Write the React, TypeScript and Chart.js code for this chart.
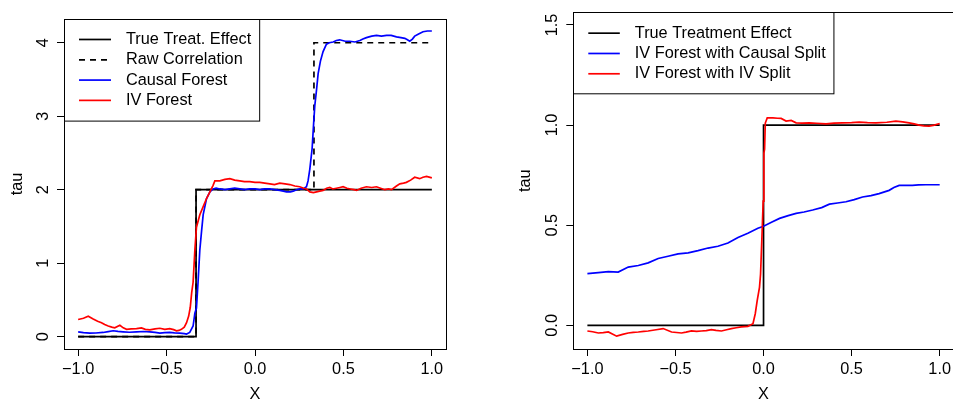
import React, { useEffect, useRef } from 'react';
import { Chart, registerables } from 'chart.js';

Chart.register(...registerables);

const FONT = '"Liberation Sans", Arial, Helvetica, sans-serif';
const FSIZE = 16.3;

// ---------- Left panel data ----------
const leftXTicks = [-1, -0.5, 0, 0.5, 1];
const leftYTicks = [0, 1, 2, 3, 4];
const leftLabels = ['True Treat. Effect', 'Raw Correlation', 'Causal Forest', 'IV Forest'];

const trueEffectX = [-1, -1 / 3, -1 / 3, 1];
const trueEffectY = [0, 0, 2, 2];

const rawCorrX = [-1, -1 / 3, -1 / 3, 1 / 3, 1 / 3, 1];
const rawCorrY = [0, 0, 2, 2, 4, 4];

const causalForestX = [
  -1.0, -0.97, -0.934, -0.9, -0.859, -0.83, -0.802, -0.775, -0.746, -0.71, -0.67, -0.63, -0.595, -0.565,
  -0.538, -0.51, -0.482, -0.455, -0.425, -0.4, -0.387, -0.369, -0.35, -0.34, -0.331, -0.322, -0.312,
  -0.302, -0.293, -0.274, -0.255, -0.237, -0.22, -0.199, -0.17, -0.142, -0.115, -0.086, -0.06, -0.03,
  0.0, 0.027, 0.055, 0.084, 0.11, 0.14, 0.16, 0.178, 0.2, 0.216, 0.235, 0.253, 0.272, 0.291, 0.3, 0.31,
  0.323, 0.332, 0.338, 0.348, 0.357, 0.37, 0.385, 0.404, 0.42, 0.442, 0.46, 0.479, 0.51, 0.536, 0.565,
  0.593, 0.61, 0.63, 0.66, 0.687, 0.715, 0.744, 0.77, 0.8, 0.825, 0.847, 0.862, 0.875, 0.89, 0.903,
  0.925, 0.95, 0.975, 1.0,
];
const causalForestY = [
  0.066, 0.055, 0.049, 0.05, 0.057, 0.068, 0.08, 0.072, 0.066, 0.06, 0.066, 0.07, 0.066, 0.058,
  0.049, 0.054, 0.057, 0.052, 0.049, 0.042, 0.035, 0.057, 0.145, 0.32, 0.39, 0.74, 1.18,
  1.44, 1.66, 1.88, 1.97, 2.01, 2.02, 2.01, 2.0, 2.01, 2.02, 2.01, 2.0, 2.01,
  2.01, 2.0, 2.01, 2.01, 2.0, 1.99, 1.98, 1.97, 1.97, 1.98, 2.0, 2.01, 2.01, 2.04, 2.12, 2.28,
  2.56, 2.92, 3.14, 3.36, 3.58, 3.75, 3.88, 3.98, 4.0, 4.01, 4.03, 4.04, 4.02, 4.02, 4.01,
  4.03, 4.05, 4.07, 4.09, 4.1, 4.09, 4.1, 4.1, 4.08, 4.07, 4.06, 4.04, 4.02, 4.05, 4.09,
  4.12, 4.15, 4.16, 4.16,
];

const ivForestX = [
  -1.0, -0.97, -0.943, -0.915, -0.89, -0.868, -0.85, -0.83, -0.81, -0.793, -0.764, -0.745, -0.726, -0.7,
  -0.67, -0.642, -0.62, -0.595, -0.565, -0.538, -0.51, -0.482, -0.46, -0.444, -0.43, -0.416, -0.4,
  -0.387, -0.375, -0.366, -0.358, -0.35, -0.34, -0.331, -0.312, -0.293, -0.274, -0.255, -0.237, -0.227,
  -0.199, -0.17, -0.142, -0.115, -0.086, -0.06, -0.03, 0.0, 0.027, 0.055, 0.084, 0.11, 0.14, 0.17,
  0.197, 0.225, 0.253, 0.275, 0.291, 0.31, 0.33, 0.348, 0.366, 0.385, 0.405, 0.423, 0.44, 0.46, 0.48,
  0.498, 0.52, 0.54, 0.56, 0.574, 0.6, 0.63, 0.66, 0.687, 0.71, 0.734, 0.755, 0.772, 0.8, 0.819, 0.84,
  0.856, 0.88, 0.903, 0.931, 0.95, 0.97, 1.0,
];
const ivForestY = [
  0.233, 0.25, 0.277, 0.24, 0.21, 0.19, 0.165, 0.145, 0.13, 0.12, 0.154, 0.12, 0.1, 0.105,
  0.11, 0.12, 0.1, 0.092, 0.105, 0.114, 0.1, 0.11, 0.095, 0.08, 0.085, 0.1, 0.13,
  0.19, 0.28, 0.4, 0.6, 0.74, 1.18, 1.49, 1.66, 1.77, 1.88, 1.97, 2.06, 2.12,
  2.12, 2.14, 2.15, 2.13, 2.12, 2.11, 2.11, 2.1, 2.1, 2.09, 2.08, 2.07, 2.09, 2.08,
  2.07, 2.05, 2.04, 2.02, 2.01, 1.97, 1.96, 1.97, 1.98, 1.99, 2.02, 2.03, 2.01, 2.02, 2.03,
  2.04, 2.02, 2.01, 2.0, 1.99, 2.02, 2.04, 2.03, 2.04, 2.02, 2.0, 2.01, 2.0, 2.05, 2.08, 2.09,
  2.1, 2.13, 2.17, 2.15, 2.17, 2.18, 2.16,
];

// ---------- Right panel data ----------
const rightXTicks = [-1, -0.5, 0, 0.5, 1];
const rightYTicks = [0, 0.5, 1, 1.5];
const rightLabels = ['True Treatment Effect', 'IV Forest with Causal Split', 'IV Forest with IV Split'];

const trueEffect2X = [-1, 0, 0, 1];
const trueEffect2Y = [0, 0, 1, 1];

const causalSplitX = [
  -1.0, -0.938, -0.881, -0.825, -0.768, -0.711, -0.655, -0.598, -0.542, -0.485, -0.428, -0.372, -0.315,
  -0.259, -0.202, -0.145, -0.089, -0.032, 0.0, 0.045, 0.091, 0.14, 0.185, 0.23, 0.279, 0.33, 0.374, 0.42,
  0.468, 0.515, 0.562, 0.61, 0.656, 0.713, 0.74, 0.77, 0.81, 0.845, 0.88, 0.921, 0.96, 1.0,
];
const causalSplitY = [
  0.258, 0.263, 0.268, 0.266, 0.291, 0.299, 0.312, 0.334, 0.345, 0.357, 0.362, 0.373, 0.386,
  0.395, 0.411, 0.439, 0.46, 0.485, 0.495, 0.515, 0.534, 0.548, 0.559, 0.566, 0.576, 0.588, 0.605, 0.611,
  0.617, 0.628, 0.641, 0.648, 0.658, 0.674, 0.688, 0.699, 0.699, 0.699, 0.701, 0.702, 0.702, 0.702,
];

const ivSplitX = [
  -1.0, -0.97, -0.938, -0.91, -0.881, -0.834, -0.8, -0.768, -0.74, -0.711, -0.68, -0.655, -0.61, -0.57,
  -0.522, -0.466, -0.44, -0.409, -0.38, -0.353, -0.325, -0.296, -0.27, -0.239, -0.21, -0.183, -0.155,
  -0.126, -0.089, -0.06, -0.047, -0.036, -0.023, -0.017, -0.01, -0.002, 0.002, 0.006, 0.01, 0.021, 0.053,
  0.08, 0.1, 0.128, 0.157, 0.185, 0.22, 0.26, 0.3, 0.355, 0.4, 0.449, 0.5, 0.543, 0.59, 0.638, 0.7, 0.751,
  0.79, 0.826, 0.855, 0.883, 0.91, 0.94, 0.97, 1.0,
];
const ivSplitY = [
  -0.028, -0.032, -0.038, -0.036, -0.033, -0.054, -0.045, -0.038, -0.035, -0.033, -0.03, -0.028, -0.022, -0.016,
  -0.033, -0.038, -0.034, -0.028, -0.03, -0.028, -0.026, -0.021, -0.025, -0.028, -0.022, -0.016, -0.012,
  -0.008, -0.005, 0.008, 0.058, 0.123, 0.19, 0.255, 0.42, 0.62, 0.86, 0.88, 1.01, 1.036, 1.036,
  1.034, 1.033, 1.02, 1.023, 1.011, 1.01, 1.011, 1.009, 1.006, 1.01, 1.011, 1.012, 1.015, 1.012, 1.011, 1.014, 1.02,
  1.016, 1.011, 1.006, 1.0, 0.996, 0.995, 1.0, 1.008,
];

// ---------- helpers ----------
type Series = { xs: number[]; ys: number[]; color: string; dash?: number[]; order: number; label: string };

const pts = (xs: number[], ys: number[]) => xs.map((x, i) => ({ x, y: ys[i] }));
const fmtX = (v: number) => (v < 0 ? '\u2212' : '') + Math.abs(v).toFixed(1);

const boxLegendPlugin = {
  id: 'boxLegend',
  afterDraw(chart: any, _args: any, opts: any) {
    const ctx = chart.ctx;
    const { left, top, right, bottom } = chart.chartArea;
    ctx.save();
    ctx.strokeStyle = '#000';
    ctx.lineWidth = 1;
    ctx.setLineDash([]);
    ctx.strokeRect(Math.round(left) + 0.5, Math.round(top) + 0.5, Math.round(right - left), Math.round(bottom - top));
    const items: Series[] = opts.items || [];
    ctx.font = `${FSIZE}px ${FONT}`;
    let maxW = 0;
    items.forEach((it) => (maxW = Math.max(maxW, ctx.measureText(it.label).width)));
    const rowH = 20.3;
    const firstRow = 20.7;
    const lx0 = left + opts.lineStart;
    const lx1 = left + opts.lineEnd;
    const tx = left + opts.textStart;
    const boxW = opts.textStart + maxW + 8;
    const boxH = firstRow + (items.length - 1) * rowH + 20;
    ctx.fillStyle = '#fff';
    ctx.fillRect(Math.round(left) + 0.5, Math.round(top) + 0.5, boxW, boxH);
    ctx.strokeRect(Math.round(left) + 0.5, Math.round(top) + 0.5, boxW, boxH);
    items.forEach((it, i) => {
      const y = top + firstRow + i * rowH;
      ctx.beginPath();
      ctx.strokeStyle = it.color;
      ctx.lineWidth = 1.7;
      ctx.setLineDash(it.dash || []);
      ctx.moveTo(lx0, y);
      ctx.lineTo(lx1, y);
      ctx.stroke();
      ctx.setLineDash([]);
      ctx.fillStyle = '#000';
      ctx.textAlign = 'left';
      ctx.textBaseline = 'middle';
      ctx.fillText(it.label, tx, y);
    });
    ctx.restore();
  },
};

type PanelProps = {
  width: number;
  left: number;
  series: Series[];
  xTicks: number[];
  yTicks: number[];
  yMin: number;
  yMax: number;
  yFmt: (v: number) => string;
  yAxisWidth: number;
  yTickPad: number;
  yTitlePad: number;
  padRight: number;
  legendLine: [number, number, number];
};

function Panel(p: PanelProps) {
  const ref = useRef<HTMLCanvasElement | null>(null);
  useEffect(() => {
    if (!ref.current) return;
    const tickFont = { family: FONT, size: FSIZE };
    const chart = new Chart(ref.current, {
      type: 'line',
      data: {
        datasets: p.series.map((s) => ({
          label: s.label,
          data: pts(s.xs, s.ys),
          borderColor: s.color,
          backgroundColor: s.color,
          borderWidth: 1.7,
          borderDash: s.dash || [],
          pointRadius: 0,
          tension: 0,
          fill: false,
          order: s.order,
        })),
      },
      options: {
        animation: false,
        responsive: false,
        devicePixelRatio: 1,
        layout: { padding: { left: 0, top: 8.3, right: p.padRight, bottom: 0 } },
        plugins: {
          legend: { display: false },
          tooltip: { enabled: false },
          boxLegend: {
            items: p.series.slice().sort((a, b) => b.order - a.order),
            lineStart: p.legendLine[0],
            lineEnd: p.legendLine[1],
            textStart: p.legendLine[2],
          },
        } as any,
        scales: {
          x: {
            type: 'linear',
            min: -1.08,
            max: 1.08,
            afterBuildTicks: (s: any) => {
              s.ticks = p.xTicks.map((v) => ({ value: v }));
            },
            afterFit: (s: any) => {
              s.height = 54;
            },
            grid: { drawOnChartArea: false, drawTicks: true, tickLength: 7, color: '#000', lineWidth: 1 },
            border: { display: false },
            ticks: {
              autoSkip: false,
              maxRotation: 0,
              minRotation: 0,
              padding: 4,
              color: '#000',
              font: tickFont,
              callback: (v: any) => fmtX(Number(v)),
            },
            title: {
              display: true,
              text: 'X',
              color: '#000',
              font: { family: FONT, size: FSIZE, lineHeight: 1 },
              padding: { top: 0, bottom: 0 },
            },
          },
          y: {
            type: 'linear',
            min: p.yMin,
            max: p.yMax,
            afterBuildTicks: (s: any) => {
              s.ticks = p.yTicks.map((v) => ({ value: v }));
            },
            afterFit: (s: any) => {
              s.width = p.yAxisWidth;
            },
            grid: { drawOnChartArea: false, drawTicks: true, tickLength: 7, color: '#000', lineWidth: 1 },
            border: { display: false },
            ticks: {
              autoSkip: false,
              minRotation: 90,
              maxRotation: 90,
              crossAlign: 'center',
              padding: p.yTickPad,
              color: '#000',
              font: tickFont,
              callback: (v: any) => p.yFmt(Number(v)),
            },
            title: {
              display: true,
              text: 'tau',
              color: '#000',
              font: { family: FONT, size: FSIZE, lineHeight: 1 },
              padding: { top: p.yTitlePad, bottom: 0 },
            },
          },
        },
      } as any,
      plugins: [boxLegendPlugin],
    });
    return () => chart.destroy();
  }, []);
  return (
    <canvas
      ref={ref}
      width={p.width}
      height={403}
      style={{ position: 'absolute', left: p.left, top: 0, width: p.width, height: 403, display: 'block' }}
    />
  );
}

export default function App() {
  const leftSeries: Series[] = [
    { xs: trueEffectX, ys: trueEffectY, color: '#000000', order: 4, label: leftLabels[0] },
    { xs: rawCorrX, ys: rawCorrY, color: '#000000', dash: [6, 5], order: 3, label: leftLabels[1] },
    { xs: causalForestX, ys: causalForestY, color: '#0000FF', order: 2, label: leftLabels[2] },
    { xs: ivForestX, ys: ivForestY, color: '#FF0000', order: 1, label: leftLabels[3] },
  ];
  const rightSeries: Series[] = [
    { xs: trueEffect2X, ys: trueEffect2Y, color: '#000000', order: 3, label: rightLabels[0] },
    { xs: causalSplitX, ys: causalSplitY, color: '#0000FF', order: 2, label: rightLabels[1] },
    { xs: ivSplitX, ys: ivSplitY, color: '#FF0000', order: 1, label: rightLabels[2] },
  ];
  return (
    <div
      style={{
        position: 'fixed',
        left: 0,
        top: 0,
        width: 953,
        height: 403,
        overflow: 'hidden',
        background: '#fff',
      }}
    >
      <Panel
        width={476}
        left={0}
        series={leftSeries}
        xTicks={leftXTicks}
        yTicks={leftYTicks}
        yMin={-0.168}
        yMax={4.326}
        yFmt={(v) => String(v)}
        yAxisWidth={64}
        yTickPad={9}
        yTitlePad={9}
        padRight={30}
        legendLine={[15, 47, 62]}
      />
      <Panel
        width={479}
        left={476}
        series={rightSeries}
        xTicks={rightXTicks}
        yTicks={rightYTicks}
        yMin={-0.118}
        yMax={1.562}
        yFmt={(v) => v.toFixed(1)}
        yAxisWidth={97.3}
        yTickPad={2.7}
        yTitlePad={41}
        padRight={0}
        legendLine={[15, 46.5, 61.5]}
      />
    </div>
  );
}
